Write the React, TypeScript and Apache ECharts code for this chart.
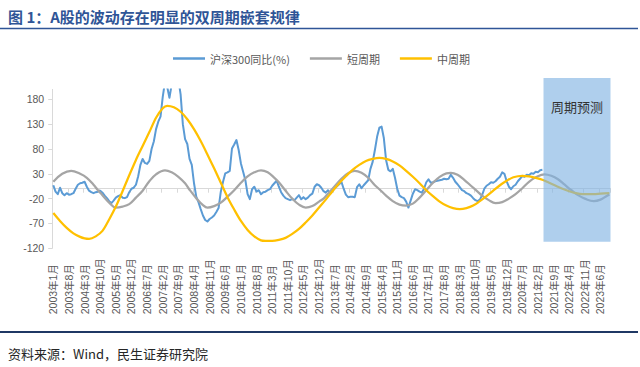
import React, { useEffect, useRef } from 'react';
import * as echarts from 'echarts';

// Monthly categories 2003-01 ... 2023-10
const categories: string[] = [];
for (let y = 2003; y <= 2023; y++) {
  for (let m = 1; m <= 12; m++) {
    if (y === 2023 && m > 10) break;
    categories.push(`${y}年${m}月`);
  }
}

// 沪深300同比(%) monthly from 2003-01 to 2021-04
const hs300Yoy: number[] = [
  7, -6, -11, 2, -9, -13, -9, -12, -11, -9, 0, 8,
  11, 12, 14, 4, -4, -7, -9, -7, -6, -4, -8, -14,
  -19, -25, -29, -24, -18, -15, -13, -18, -19, -17, -7, 0,
  2, 8, 25, 48, 60, 52, 50, 56, 80, 95, 120, 135,
  145, 185, 215, 205, 183, 210, 225, 230, 220, 190, 130, 100,
  90, 60, 48, 11, -16, -27, -41, -54, -63, -66, -61, -58,
  -54, -47, -39, -6, 14, 31, 33, 36, 81, 89, 98, 78,
  51, 34, 17, -11, -21, -1, 4, -6, -3, -11, -7, -6,
  -3, -1, 6, 11, 16, 4, -7, -14, -19, -21, -23, -21,
  -23, -18, -13, -21, -17, -21, -18, -13, -10, 4, 9, 7,
  2, -5, -8, -3, -10, -4, 1, 5, 9, 14, 0, -12,
  -17, -16, -16, -17, 3, 9, 1, 7, 12, 17, 40, 54,
  78, 105, 123, 125, 102, 58, 38, 35, 40, 22, 0, -14,
  -17, -19, -26, -38, -24, -10, -1, -3, -6, -8, 0, 13,
  19, 12, 13, 15, 16, 17, 18, 20, 19, 20, 28, 22,
  14, 9, 3, -3, -5, -9, -11, -14, -19, -23, -25, -22,
  -13, 0, 6, 9, 13, 12, 15, 20, 24, 33, 30, 15,
  4, -1, 5, 8, 15, 20, 26, 24, 28, 27, 31, 30,
  34, 33, 37, 38,
];

// 短周期 (sampled months, index from 2003-01, and values)
const shortCycleIdx: number[] = [
  0, 4, 8, 12, 15, 18, 20, 22, 25, 28, 31, 34, 37, 40, 43, 46, 50, 53, 56, 59,
  61, 64, 67, 69, 72, 75, 78, 81, 84, 87, 90, 93, 96, 99, 101, 104, 107, 110, 113, 116,
  119, 121, 123, 126, 129, 132, 135, 138, 141, 144, 146, 149, 152, 155, 158, 161, 164, 167, 170, 173,
  176, 178, 181, 184, 187, 190, 192, 195, 198, 201, 204, 207, 210, 213, 216, 220, 223, 226, 229, 232,
  235, 238, 242, 245, 248, 249,
];
const shortCycleVal: number[] = [
  14, 30, 36, 30, 22, 8, -3, -13, -28, -38, -36, -31, -18, -4, 15, 29, 37, 33, 24, 11,
  -2, -19, -33, -38, -35, -28, -16, -3, 12, 25, 33, 37, 33, 22, 13, -4, -20, -32, -38, -35,
  -26, -20, -10, 5, 20, 31, 36, 32, 22, 7, -1, -14, -25, -32, -34, -30, -18, -3, 12, 24,
  31, 32, 28, 18, 6, -6, -14, -23, -29, -27, -20, -11, 1, 14, 23, 29, 26, 19, 8, -3,
  -13, -20, -25, -22, -14, -12,
];

// 中周期 (sampled months, index from 2003-01, and values)
const midCycleIdx: number[] = [
  0, 3, 6, 9, 12, 14, 16, 19, 22, 25,
  28, 31, 34, 37, 40, 43, 46, 49, 51, 54,
  57, 60, 63, 66, 69, 72, 75, 78, 81, 84,
  87, 90, 93, 95, 98, 101, 104, 107, 110, 113,
  116, 119, 122, 125, 128, 131, 134, 137, 140, 143,
  146, 149, 152, 155, 158, 161, 164, 167, 170, 173,
  176, 179, 182, 185, 188, 191, 194, 197, 200, 203,
  206, 210, 213, 216, 219, 222, 225, 228, 231, 234,
  237, 239, 242, 245, 249,
];
const midCycleVal: number[] = [
  -49, -65, -79, -90, -97, -100, -101, -96, -85, -62,
  -36, -5, 27, 58, 86, 114, 143, 162, 167, 164,
  155, 140, 120, 96, 69, 41, 12, -17, -42, -65,
  -83, -96, -104, -105, -105, -103, -99, -91, -81, -68,
  -54, -38, -22, -5, 11, 25, 38, 48, 56, 60,
  62, 60, 55, 47, 36, 24, 11, -3, -15, -26,
  -34, -39, -41, -39, -34, -25, -15, -4, 7, 16,
  23, 26, 25, 22, 18, 12, 6, 0, -5, -9,
  -11, -11, -11, -10, -9,
];

const seriesNames = ['沪深300同比(%)', '短周期', '中周期'];
const forecastStart = '2021年5月';
const forecastTop = 223;
const forecastBottom = -107;

const sansFont = '"Liberation Sans", "Noto Sans CJK SC", sans-serif';
const cjkFont = '"Noto Sans CJK SC", sans-serif';

export default function App() {
  const ref = useRef<HTMLDivElement>(null);

  useEffect(() => {
    const el = ref.current;
    if (!el) return;
    const chart = echarts.init(el, null, { renderer: 'svg' });
    const labelColor = '#595959';
    const axisGray = '#D9D9D9';

    const option: any = {
      animation: false,
      backgroundColor: '#ffffff',
      grid: { left: 52.2, right: 29.5, top: 89.4, bottom: 118.7, containLabel: false },
      legend: {
        left: 173,
        top: 53,
        padding: 0,
        icon: 'rect',
        itemWidth: 32,
        itemHeight: 2.5,
        itemGap: 20,
        textStyle: { fontSize: 11, color: labelColor, fontFamily: cjkFont },
        data: seriesNames,
      },
      xAxis: [
        {
          type: 'category',
          data: categories,
          boundaryGap: true,
          position: 'bottom',
          axisLine: { show: false, onZero: false },
          axisTick: { show: false },
          splitLine: { show: false },
          axisLabel: {
            interval: 6,
            rotate: 90,
            align: 'left',
            verticalAlign: 'middle',
            margin: 66,
            fontSize: 10.5,
            color: labelColor,
            fontFamily: sansFont,
          },
        },
        {
          type: 'category',
          data: categories,
          boundaryGap: true,
          position: 'bottom',
          axisLine: { show: true, onZero: true, lineStyle: { color: axisGray, width: 1 } },
          axisTick: { show: true, interval: 6, length: 4, lineStyle: { color: axisGray } },
          axisLabel: { show: false },
          splitLine: { show: false },
        },
      ],
      yAxis: {
        type: 'value',
        min: -120,
        max: 200,
        interval: 50,
        splitLine: { show: false },
        axisLine: { show: true, lineStyle: { color: axisGray } },
        axisTick: { show: true, length: 4, lineStyle: { color: axisGray } },
        axisLabel: { showMaxLabel: false, fontSize: 10.5, color: labelColor, margin: 8, fontFamily: sansFont },
      },
      series: [
        {
          name: seriesNames[0],
          type: 'line',
          xAxisIndex: 0,
          data: hs300Yoy,
          symbol: 'none',
          lineStyle: { color: '#5B9BD5', width: 2, join: 'round' },
          itemStyle: { color: '#5B9BD5' },
        },
        {
          name: seriesNames[1],
          type: 'line',
          xAxisIndex: 0,
          data: shortCycleIdx.map((k, j) => [categories[k], shortCycleVal[j]]),
          smooth: 0.4,
          symbol: 'none',
          lineStyle: { color: '#A5A5A5', width: 2.25, join: 'round' },
          itemStyle: { color: '#A5A5A5' },
        },
        {
          name: seriesNames[2],
          type: 'line',
          xAxisIndex: 0,
          data: midCycleIdx.map((k, j) => [categories[k], midCycleVal[j]]),
          smooth: 0.3,
          symbol: 'none',
          lineStyle: { color: '#FFC000', width: 2.25, join: 'round' },
          itemStyle: { color: '#FFC000' },
        },
      ],
    };
    chart.setOption(option);

    const px = (c: string) => chart.convertToPixel({ xAxisIndex: 0 }, c) as number;
    const py = (v: number) => chart.convertToPixel({ yAxisIndex: 0 }, v) as number;
    const band = px(categories[1]) - px(categories[0]);
    const left = px(forecastStart) - band / 2;
    const right = px(categories[categories.length - 1]) + band / 2;
    const top = py(forecastTop);
    const bottom = py(forecastBottom);

    chart.setOption({
      graphic: [
        {
          type: 'text',
          x: 8,
          y: 16.5,
          z: 100,
          style: {
            text: '图 1：A股的波动存在明显的双周期嵌套规律',
            fill: '#2F5597',
            fontSize: 15,
            fontWeight: 'bold',
            fontFamily: cjkFont,
            verticalAlign: 'middle',
          },
        },
        {
          type: 'line',
          z: 100,
          shape: { x1: 0, y1: 28.5, x2: 638, y2: 28.5 },
          style: { stroke: '#2F5597', lineWidth: 1.5 },
        },
        {
          type: 'line',
          z: 100,
          shape: { x1: 0, y1: 332, x2: 638, y2: 332 },
          style: { stroke: '#1F3864', lineWidth: 2 },
        },
        {
          type: 'text',
          x: 8,
          y: 353,
          z: 100,
          style: {
            text: '资料来源：Wind，民生证券研究院',
            fill: '#262626',
            fontSize: 13,
            fontFamily: cjkFont,
            verticalAlign: 'middle',
          },
        },
        {
          type: 'rect',
          z: 100,
          shape: { x: left, y: top, width: right - left, height: bottom - top },
          style: { fill: 'rgba(126,178,226,0.62)' },
        },
        {
          type: 'text',
          x: (left + right) / 2,
          y: top + 29,
          z: 101,
          style: {
            text: '周期预测',
            fill: '#333333',
            fontSize: 13,
            fontFamily: cjkFont,
            align: 'center',
            verticalAlign: 'middle',
          },
        },
      ],
    });

    return () => {
      chart.dispose();
    };
  }, []);

  return (
    <div
      ref={ref}
      style={{ position: 'absolute', left: 0, top: 0, width: 640, height: 367 }}
    />
  );
}
